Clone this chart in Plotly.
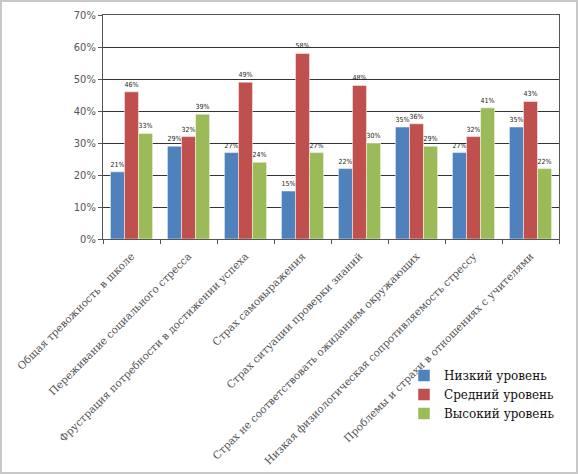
import plotly.graph_objects as go

categories = [
    "Общая тревожность в школе",
    "Переживание социального стресса",
    "Фрустрация потребности в достижении успеха",
    "Страх самовыражения",
    "Страх ситуации проверки знаний",
    "Страх не соответствовать ожиданиям окружающих",
    "Низкая физиологическая сопротивляемость стрессу",
    "Проблемы и страхи в отношениях с учителями",
]
low = [21, 29, 27, 15, 22, 35, 27, 35]
mid = [46, 32, 49, 58, 48, 36, 32, 43]
high = [33, 39, 24, 27, 30, 29, 41, 22]
series_names = ["Низкий уровень", "Средний уровень", "Высокий уровень"]
colors = ["#4F81BD", "#C0504D", "#9BBB59"]

fig = go.Figure()
for name, vals, col in zip(series_names, [low, mid, high], colors):
    fig.add_trace(go.Bar(
        x=categories, y=[v / 100 for v in vals], name=name,
        marker={"color": col, "line": {"color": "white", "width": 0.5}},
        text=[f"{v}%" for v in vals], textposition="outside",
        textfont={"family": "DejaVu Sans Condensed", "size": 11, "color": "#222"},
        cliponaxis=False,
    ))

W, H = 578, 474
ml, mr, mt, mb = 103, 19, 15, 235
pw, ph = W - ml - mr, H - mt - mb

fig.update_layout(
    width=W, height=H,
    margin={"l": ml, "r": mr, "t": mt, "b": mb, "autoexpand": False},
    paper_bgcolor="white", plot_bgcolor="white",
    barmode="group", bargap=0.26, bargroupgap=0,
    font={"color": "#444"},
    showlegend=True,
    legend={"x": (404 - ml) / pw, "y": (239 - 361) / ph, "xanchor": "left", "yanchor": "top",
            "font": {"family": "DejaVu Serif", "size": 12, "color": "#111"},
            "itemwidth": 30, "tracegroupgap": 0, "bgcolor": "rgba(0,0,0,0)"},
    shapes=[{"type": "rect", "xref": "paper", "yref": "paper",
             "x0": -(ml - 1) / pw, "x1": 1 + (mr - 1) / pw,
             "y0": -(mb - 1) / ph, "y1": 1 + (mt - 1) / ph,
             "line": {"color": "#c8c8c8", "width": 2}}],
)
fig.update_xaxes(
    automargin=False,
    tickangle=-45, tickfont={"family": "DejaVu Serif", "size": 10.5, "color": "#555"},
    ticklabelstandoff=6,
    showline=True, linecolor="#555", linewidth=1, mirror=True,
    ticks="outside", tickson="boundaries", ticklen=4, tickcolor="#555",
)
fig.update_yaxes(
    automargin=False,
    range=[0, 0.7], dtick=0.1, tickformat=".0%",
    tickfont={"family": "DejaVu Sans Condensed", "size": 11, "color": "#555"},
    showgrid=True, gridcolor="#333", gridwidth=1,
    showline=True, linecolor="#555", linewidth=1, mirror=True,
    ticks="outside", ticklen=4, tickcolor="#555", zeroline=False,
)

fig.write_html("out.html", config={"displayModeBar": False},
               post_script="document.body.style.margin='0';")
